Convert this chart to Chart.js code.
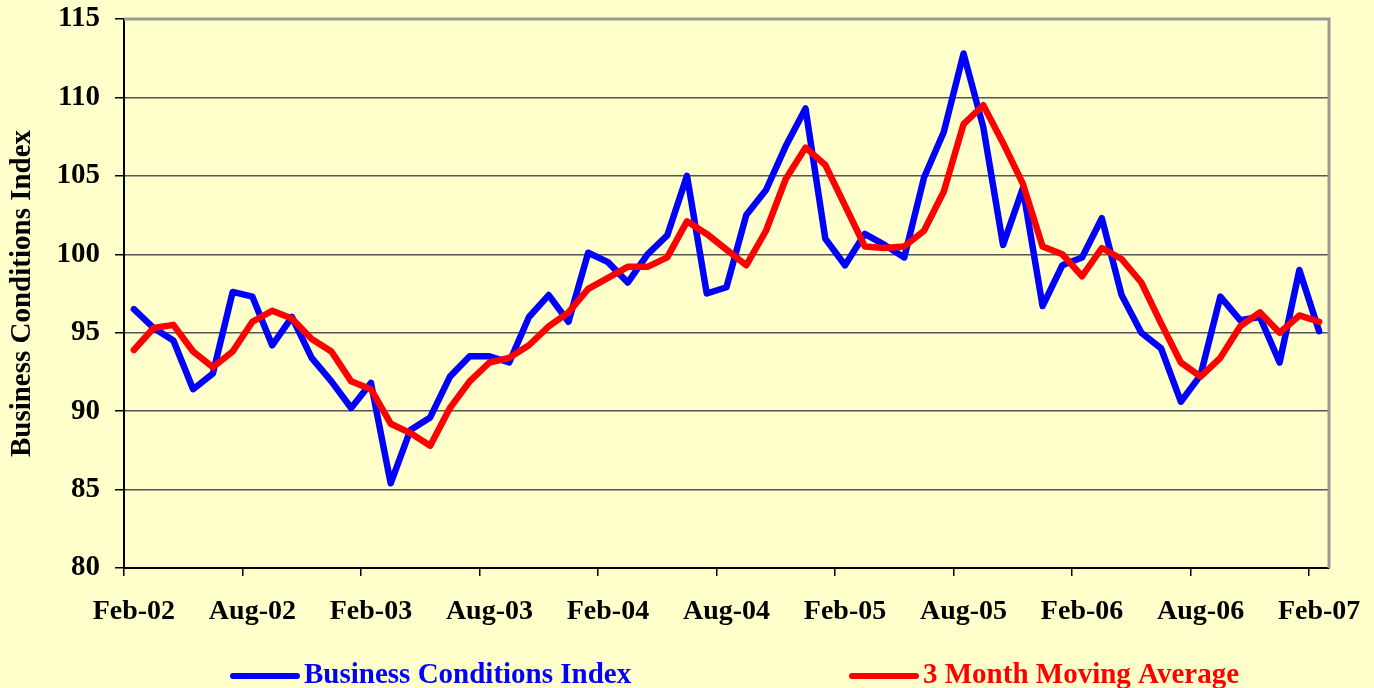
<!DOCTYPE html>
<html>
<head>
<meta charset="utf-8">
<script src="https://cdn.jsdelivr.net/npm/chart.js@4.4.1/dist/chart.umd.min.js"></script>
<style>
  html, body { margin: 0; padding: 0; background: #ffffcc; }
  #wrap { width: 1374px; height: 688px; position: relative; }
</style>
</head>
<body>
<div id="wrap"><canvas id="chart"></canvas></div>
<script>
// Monthly labels, Feb-02 .. Feb-07
const months = [
    'Feb-02', 'Mar-02', 'Apr-02', 'May-02', 'Jun-02', 'Jul-02', 'Aug-02', 'Sep-02', 'Oct-02', 'Nov-02', 'Dec-02', 'Jan-03',
    'Feb-03', 'Mar-03', 'Apr-03', 'May-03', 'Jun-03', 'Jul-03', 'Aug-03', 'Sep-03', 'Oct-03', 'Nov-03', 'Dec-03', 'Jan-04',
    'Feb-04', 'Mar-04', 'Apr-04', 'May-04', 'Jun-04', 'Jul-04', 'Aug-04', 'Sep-04', 'Oct-04', 'Nov-04', 'Dec-04', 'Jan-05',
    'Feb-05', 'Mar-05', 'Apr-05', 'May-05', 'Jun-05', 'Jul-05', 'Aug-05', 'Sep-05', 'Oct-05', 'Nov-05', 'Dec-05', 'Jan-06',
    'Feb-06', 'Mar-06', 'Apr-06', 'May-06', 'Jun-06', 'Jul-06', 'Aug-06', 'Sep-06', 'Oct-06', 'Nov-06', 'Dec-06', 'Jan-07',
    'Feb-07'
];

// Business Conditions Index
const bciValues = [
    96.5, 95.3, 94.5, 91.4, 92.4, 97.6, 97.3, 94.2, 96.0, 93.4, 91.9, 90.2,
    91.8, 85.4, 88.8, 89.6, 92.2, 93.5, 93.5, 93.1, 96.0, 97.4, 95.7, 100.1,
    99.5, 98.2, 100.0, 101.2, 105.0, 97.5, 97.9, 102.5, 104.1, 106.9, 109.3, 101.0,
    99.3, 101.3, 100.6, 99.8, 104.9, 107.8, 112.8, 108.1, 100.6, 104.2, 96.7, 99.3,
    99.8, 102.3, 97.4, 95.0, 94.0, 90.6, 92.3, 97.3, 95.8, 96.0, 93.1, 99.0,
    95.1
];

// 3 Month Moving Average
const movingAvg = [
    93.9, 95.3, 95.5, 93.8, 92.8, 93.8, 95.7, 96.4, 95.9, 94.6, 93.8, 91.9,
    91.4, 89.2, 88.6, 87.8, 90.2, 91.9, 93.1, 93.4, 94.2, 95.4, 96.3, 97.8,
    98.5, 99.2, 99.2, 99.8, 102.1, 101.3, 100.3, 99.3, 101.5, 104.8, 106.8, 105.7,
    103.1, 100.5, 100.4, 100.5, 101.5, 104.0, 108.3, 109.5, 107.1, 104.5, 100.5, 100.0,
    98.6, 100.4, 99.7, 98.2, 95.6, 93.1, 92.2, 93.4, 95.4, 96.3, 95.0, 96.1,
    95.7
];

const yMin = 80;
const yMax = 115;
const yStep = 5;
const labelEvery = 6;

const seriesNames = ['Business Conditions Index', '3 Month Moving Average'];
const seriesColors = ['#0000ff', '#ff0000'];

const FONT = "'Liberation Serif', 'Times New Roman', serif";

// gray frame on top and right of the plot
const plotFrame = {
    id: 'plotFrame',
    beforeDatasetsDraw(chart) {
        const { ctx, chartArea } = chart;
        ctx.save();
        ctx.strokeStyle = '#999999';
        ctx.lineWidth = 3;
        ctx.beginPath();
        ctx.moveTo(chartArea.left, chartArea.top);
        ctx.lineTo(chartArea.right, chartArea.top);
        ctx.lineTo(chartArea.right, chartArea.bottom);
        ctx.stroke();
        ctx.restore();
    }
};

// legend row at the very bottom, spread wide like the original
const bottomLegend = {
    id: 'bottomLegend',
    afterDraw(chart) {
        const { ctx, chartArea } = chart;
        const y = chart.height - 12;
        const starts = [chartArea.left + 109, chartArea.left + 728];
        ctx.save();
        ctx.font = 'bold 29px ' + FONT;
        ctx.textBaseline = 'middle';
        chart.data.datasets.forEach((ds, i) => {
            const x = starts[i];
            ctx.strokeStyle = ds.borderColor;
            ctx.lineWidth = 6;
            ctx.lineCap = 'round';
            ctx.beginPath();
            ctx.moveTo(x, y);
            ctx.lineTo(x + 64, y);
            ctx.stroke();
            ctx.fillStyle = ds.borderColor;
            ctx.fillText(ds.label, x + 71, y);
        });
        ctx.restore();
    }
};

new Chart(document.getElementById('chart'), {
    type: 'line',
    data: {
        labels: months,
        datasets: [
            {
                label: seriesNames[0],
                data: bciValues,
                borderColor: seriesColors[0],
                backgroundColor: seriesColors[0],
                borderWidth: 6.5,
                pointRadius: 0,
                tension: 0,
                borderJoinStyle: 'round',
                borderCapStyle: 'round',
                order: 2
            },
            {
                label: seriesNames[1],
                data: movingAvg,
                borderColor: seriesColors[1],
                backgroundColor: seriesColors[1],
                borderWidth: 6.5,
                pointRadius: 0,
                tension: 0,
                borderJoinStyle: 'round',
                borderCapStyle: 'round',
                order: 1
            }
        ]
    },
    options: {
        responsive: true,
        maintainAspectRatio: false,
        animation: false,
        layout: { autoPadding: false, padding: { top: 19, right: 45, left: 0, bottom: 0 } },
        plugins: {
            legend: { display: false },
            tooltip: { enabled: false }
        },
        scales: {
            x: {
                offset: true,
                afterFit: (s) => {
                    s.height = 120;
                    s.paddingLeft = 0;
                    s.paddingRight = 0;
                },
                grid: {
                    offset: true,
                    drawOnChartArea: false,
                    tickLength: 8,
                    lineWidth: 1.5,
                    tickColor: (c) => (c.index % labelEvery === 0 ? '#000000' : 'rgba(0,0,0,0)')
                },
                border: { color: '#000000', width: 2 },
                ticks: {
                    autoSkip: false,
                    maxRotation: 0,
                    padding: 19,
                    color: '#000000',
                    font: { family: FONT, size: 28, weight: 'bold' },
                    callback: function (val, i) {
                        return i % labelEvery === 0 ? this.getLabelForValue(val) : '';
                    }
                }
            },
            y: {
                min: yMin,
                max: yMax,
                afterFit: (s) => {
                    s.width = 124;
                    s.paddingTop = 0;
                    s.paddingBottom = 0;
                },
                grid: {
                    color: '#555555',
                    lineWidth: 1.5,
                    tickLength: 9,
                    tickColor: '#000000'
                },
                border: { color: '#000000', width: 2 },
                ticks: {
                    stepSize: yStep,
                    padding: 15,
                    color: '#000000',
                    font: { family: FONT, size: 29, weight: 'bold' }
                },
                title: {
                    display: true,
                    text: 'Business Conditions Index',
                    color: '#000000',
                    padding: { top: 5, bottom: 0 },
                    font: { family: FONT, size: 29, weight: 'bold' }
                }
            }
        }
    },
    plugins: [plotFrame, bottomLegend]
});
</script>
</body>
</html>
